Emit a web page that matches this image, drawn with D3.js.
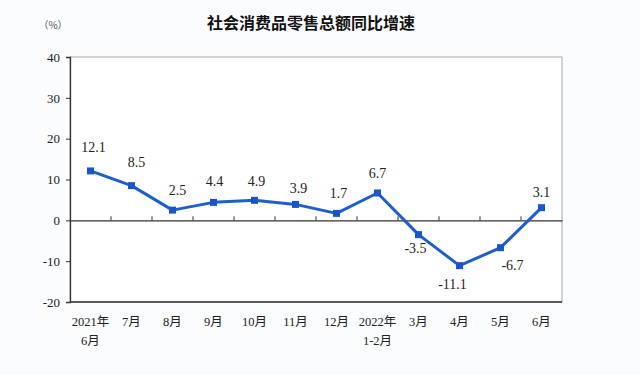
<!DOCTYPE html>
<html><head><meta charset="utf-8">
<script src="https://cdn.jsdelivr.net/npm/d3@7/dist/d3.min.js"></script>
<style>
html,body{margin:0;padding:0;background:#fbfcfe;}
svg{display:block;}
</style></head>
<body><svg id="c" width="640" height="375"></svg>
<script>
const categories = ["2021年\n6月","7月","8月","9月","10月","11月","12月","2022年\n1-2月","3月","4月","5月","6月"];
const values = [12.1, 8.5, 2.5, 4.4, 4.9, 3.9, 1.7, 6.7, -3.5, -11.1, -6.7, 3.1];
const yTicks = [-20, -10, 0, 10, 20, 30, 40];
const title = "社会消费品零售总额同比增速";
const unit = "（%）";
// label placement (layout, not data): [dx, dy] of label centre from point
const labelOffsets = [[3,-24],[5,-24],[5,-20],[1,-21],[2,-19],[3,-16],[2,-20],[0,-20],[-3,13],[-7,18],[12,17],[0,-16]];

const svg = d3.select("#c");
const m = {l:70, r:562, t:57, b:302};
const x = d3.scaleBand().domain(categories).range([m.l, m.r]).padding(0);
const y = d3.scaleLinear().domain([-20, 40]).range([m.b, m.t]);
const serif = "'Liberation Serif','Times New Roman','Noto Sans CJK SC',serif";
const fmtNum = d => String(d).replace("\u2212", "-");

svg.append("rect").attr("x", m.l).attr("y", m.t).attr("width", m.r-m.l).attr("height", m.b-m.t)
  .attr("fill", "#ffffff").attr("stroke", "#a8a8a8").attr("stroke-width", 1);

// left axis
const ya = svg.append("g").attr("transform", `translate(${m.l},0)`)
  .call(d3.axisLeft(y).tickValues(yTicks).tickSize(4).tickPadding(6).tickFormat(d => String(d)));
ya.select(".domain").attr("stroke", "#333").attr("stroke-width", 1.3);
ya.selectAll(".tick line").attr("stroke", "#333");
ya.selectAll("text").attr("font-family", serif).attr("font-size", 13).attr("fill", "#222");

// bottom line
svg.append("line").attr("x1", m.l).attr("x2", m.r).attr("y1", m.b).attr("y2", m.b)
  .attr("stroke", "#333").attr("stroke-width", 1.3);

// zero axis with band ticks
const za = svg.append("g").attr("transform", `translate(0,${y(0)})`)
  .call(d3.axisTop(x).tickSize(0).tickFormat(""));
za.select(".domain").attr("stroke", "#333").attr("stroke-width", 1.2);
za.selectAll(".tick").remove();
za.selectAll("line.bt").data(categories.slice(1)).join("line").attr("class","bt")
  .attr("x1", d => x(d)).attr("x2", d => x(d)).attr("y1", 0).attr("y2", -4)
  .attr("stroke", "#333").attr("stroke-width", 1);

// category labels
const cl = svg.append("g");
categories.forEach(c => {
  const lines = c.split("\n");
  const t = cl.append("text").attr("x", x(c) + x.bandwidth()/2).attr("y", 326)
    .attr("text-anchor", "middle").attr("font-family", serif).attr("font-size", 12.5).attr("fill", "#222");
  lines.forEach((ln, i) => t.append("tspan").attr("x", x(c) + x.bandwidth()/2).attr("dy", i ? 19 : 0).text(ln));
});

// line
const cx = (d,i) => x(categories[i]) + x.bandwidth()/2;
svg.append("path").datum(values)
  .attr("d", d3.line().x(cx).y(d => y(d)))
  .attr("fill", "none").attr("stroke", "#1f5fcc").attr("stroke-width", 3).attr("stroke-linejoin", "round");
svg.selectAll("rect.mk").data(values).join("rect").attr("class","mk")
  .attr("x", (d,i) => cx(d,i) - 3.5).attr("y", d => y(d) - 3.5).attr("width", 7).attr("height", 7)
  .attr("fill", "#1a56c8");

// value labels
svg.selectAll("text.vl").data(values).join("text").attr("class","vl")
  .attr("x", (d,i) => cx(d,i) + labelOffsets[i][0]).attr("y", (d,i) => y(d) + labelOffsets[i][1] + 5)
  .attr("text-anchor", "middle").attr("font-family", serif).attr("font-size", 14).attr("fill", "#222")
  .text(d => fmtNum(d.toFixed(1)));

// title & unit
svg.append("text").attr("x", 311).attr("y", 29).attr("text-anchor", "middle")
  .attr("font-family", "'Noto Sans CJK SC',sans-serif").attr("font-weight", "bold").attr("font-size", 16).attr("fill", "#111")
  .text(title);
svg.append("text").attr("x", 53).attr("y", 29).attr("text-anchor", "middle")
  .attr("font-family", "'Noto Sans CJK SC',sans-serif").attr("font-size", 10).attr("fill", "#555").text(unit);
</script></body></html>
